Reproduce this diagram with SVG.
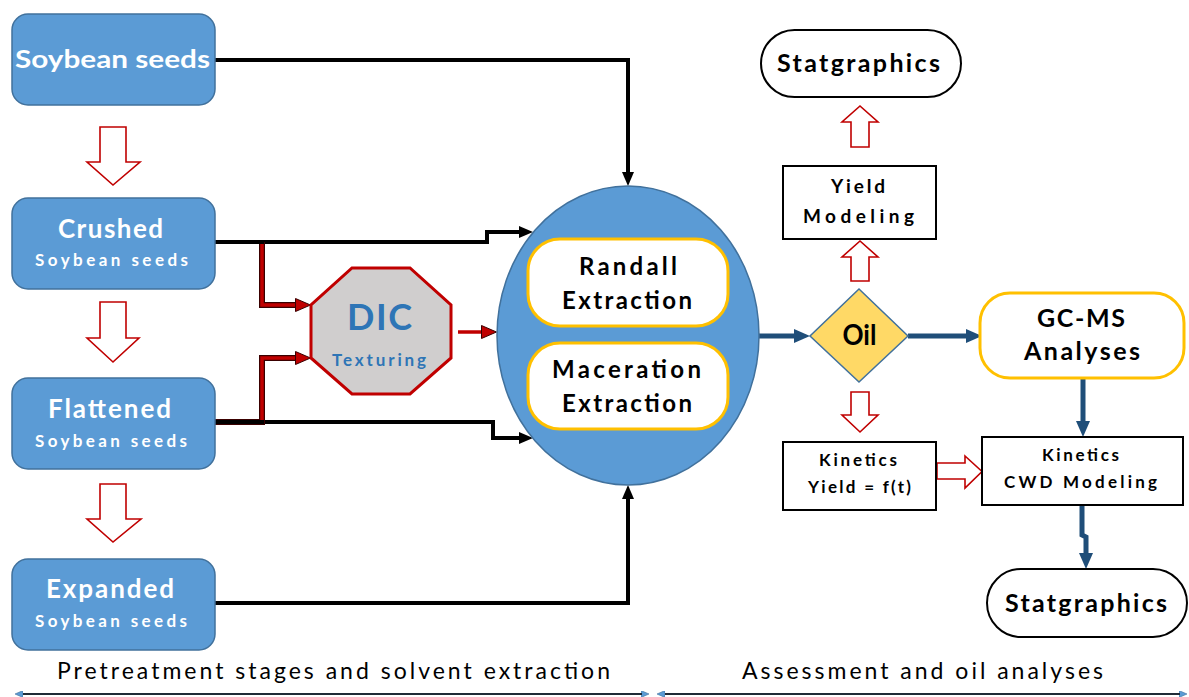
<svg xmlns="http://www.w3.org/2000/svg" width="1189" height="697" viewBox="0 0 1189 697">
<style>
.blue{fill:#5B9BD5;stroke:#41719C;stroke-width:1.5}
.wt{font-family:Lato,"Open Sans","Liberation Sans",sans-serif;font-weight:bold;fill:#fff;text-anchor:middle}
.bt{font-family:Lato,"Open Sans","Liberation Sans",sans-serif;font-weight:bold;fill:#000;text-anchor:middle}
.lab{font-family:Lato,"Open Sans","Liberation Sans",sans-serif;fill:#000;font-size:23px}
.gold{fill:#fff;stroke:#FFC000;stroke-width:3}
.box{fill:#fff;stroke:#000;stroke-width:2}
.hol{fill:#fff;stroke:#C00000;stroke-width:1.6;stroke-linejoin:miter}
.bk{fill:none;stroke:#000;stroke-width:4}
.bl{fill:none;stroke:#1F4E79;stroke-width:5}
.rdo{fill:none;stroke:#3a0000;stroke-width:6}
.rd{fill:none;stroke:#C00000;stroke-width:3.5}
</style>
<defs>
<marker id="ab" viewBox="0 0 14 12" refX="2" refY="6" markerWidth="14" markerHeight="12" markerUnits="userSpaceOnUse" orient="auto"><path d="M0,0 L14,6 L0,12 z" fill="#000"/></marker>
<marker id="ablue" viewBox="0 0 16 14" refX="2" refY="7" markerWidth="16" markerHeight="14" markerUnits="userSpaceOnUse" orient="auto"><path d="M0,0 L16,7 L0,14 z" fill="#1F4E79"/></marker>
<marker id="ared" viewBox="0 0 16 14" refX="2" refY="7" markerWidth="16" markerHeight="14" markerUnits="userSpaceOnUse" orient="auto"><path d="M0.5,0.5 L15.5,7 L0.5,13.5 z" fill="#C00000" stroke="#3a0000" stroke-width="1"/></marker>
<marker id="sm" viewBox="0 0 8 7" refX="1" refY="3.5" markerWidth="8" markerHeight="7" markerUnits="userSpaceOnUse" orient="auto"><path d="M0,0 L8,3.5 L0,7 z" fill="#5B9BD5" stroke="#41719C" stroke-width="0.6"/></marker>
</defs>

<g id="connectors">
  <path class="bk" d="M215,60 H628 V174" marker-end="url(#ab)"/>
  <path class="bk" d="M215,242 H487 V232 H521" marker-end="url(#ab)"/>
  <path class="bk" d="M215,422 H493 V438 H521" marker-end="url(#ab)"/>
  <path class="bk" d="M215,603 H628 V497" marker-end="url(#ab)"/>
  <path class="rdo" d="M262,242 V305 H297"/>
  <path class="rd" d="M215,242 H262 V305 H297" marker-end="url(#ared)"/>
  <path class="rdo" d="M215,422 H262 V358 H297"/>
  <path class="rd" d="M262,422 V358 H297" marker-end="url(#ared)"/>
  <path class="bk" d="M215,242 H264"/>
  <path class="bk" d="M215,422 H264"/>
  <path class="rd" d="M458,332 H483" marker-end="url(#ared)"/>
  <path class="bl" d="M759,336 H796" marker-end="url(#ablue)"/>
  <path class="bl" d="M908,336 H968" marker-end="url(#ablue)"/>
  <path class="bl" d="M1083,378 V423" marker-end="url(#ablue)"/>
  <path class="bl" d="M1082,505 V535 L1086,537 V555" marker-end="url(#ablue)"/>
  <path class="hol" d="M100,127 H126 V162 H140 L113,185 L87,162 H100 Z"/>
  <path class="hol" d="M100,302 H126 V338 H139 L113,362 L87,338 H100 Z"/>
  <path class="hol" d="M100,484 H126 V519 H141 L113,542 L87,519 H100 Z"/>
  <path class="hol" d="M851,281 V257 H842 L860,241 L878,257 H869 V281 Z"/>
  <path class="hol" d="M851,147 V122 H842 L860,106 L878,122 H869 V147 Z"/>
  <path class="hol" d="M851,392 H869 V415 H878 L860,432 L842,415 H851 Z"/>
  <path class="hol" d="M937,463 H965 V456 L982,471.5 L965,488 V479 H937 Z"/>
  <path d="M22,694 H642" stroke="#1F2A36" stroke-width="2" fill="none" marker-end="url(#sm)"/>
  <path d="M642,694 H22" stroke="#1F2A36" stroke-width="2" fill="none" marker-end="url(#sm)"/>
  <path d="M664,694 H1180" stroke="#1F2A36" stroke-width="2" fill="none" marker-end="url(#sm)"/>
  <path d="M1180,694 H664" stroke="#1F2A36" stroke-width="2" fill="none" marker-end="url(#sm)"/>
</g>

<g id="n-soybean"><rect class="blue" x="12" y="14" width="203" height="91" rx="16"/>
  <text class="wt" x="112.5" y="68" font-size="25" textLength="195" lengthAdjust="spacingAndGlyphs">Soybean seeds</text></g>
<g id="n-crushed"><rect class="blue" x="12" y="198" width="203" height="91" rx="16"/>
  <text class="wt" x="110.5" y="238" font-size="26" textLength="105" lengthAdjust="spacing">Crushed</text>
  <text class="wt" x="111.5" y="266" font-size="17" textLength="153" lengthAdjust="spacing">Soybean seeds</text></g>
<g id="n-flattened"><rect class="blue" x="12" y="378" width="203" height="91" rx="16"/>
  <text class="wt" x="109.5" y="418" font-size="26" textLength="123" lengthAdjust="spacing">Flattened</text>
  <text class="wt" x="111" y="447" font-size="17" textLength="152" lengthAdjust="spacing">Soybean seeds</text></g>
<g id="n-expanded"><rect class="blue" x="12" y="559" width="203" height="91" rx="16"/>
  <text class="wt" x="110" y="598" font-size="26" textLength="128" lengthAdjust="spacing">Expanded</text>
  <text class="wt" x="111" y="627" font-size="17" textLength="152" lengthAdjust="spacing">Soybean seeds</text></g>

<g id="n-dic"><polygon points="352,268 410,268 451,305 451,358 410,394 352,394 311,358 311,305" fill="#D0CECE" stroke="#C00000" stroke-width="3"/>
  <text class="bt" x="379.5" y="330" font-size="36" style="fill:#2E75B6" textLength="65" lengthAdjust="spacing">DIC</text>
  <text class="bt" x="379" y="366" font-size="17" style="fill:#2E75B6" textLength="94" lengthAdjust="spacing">Texturing</text></g>

<g id="n-extraction"><ellipse class="blue" cx="628" cy="335.5" rx="131" ry="149.5"/></g>
<g id="n-randall"><rect class="gold" x="528" y="239" width="200" height="87" rx="32"/>
  <text class="bt" x="628" y="275" font-size="24" textLength="98" lengthAdjust="spacing">Randall</text>
  <text class="bt" x="627" y="309" font-size="24" textLength="130" lengthAdjust="spacing">Extraction</text></g>
<g id="n-maceration"><rect class="gold" x="528" y="343" width="200" height="86" rx="32"/>
  <text class="bt" x="626.5" y="378" font-size="24" textLength="149" lengthAdjust="spacing">Maceration</text>
  <text class="bt" x="627" y="412" font-size="24" textLength="130" lengthAdjust="spacing">Extraction</text></g>

<g id="n-oil"><polygon points="859,289 908,336 859,382 810,336" fill="#FFD966" stroke="#41719C" stroke-width="1.5"/>
  <text class="bt" x="859.5" y="345" font-size="28" textLength="34" lengthAdjust="spacingAndGlyphs">Oil</text></g>

<g id="n-stat-top"><rect class="box" x="761" y="30" width="200" height="67" rx="33.5"/>
  <text class="bt" x="858.5" y="72" font-size="25" textLength="163" lengthAdjust="spacing">Statgraphics</text></g>
<g id="n-yield-modeling"><rect class="box" x="783" y="166" width="153" height="73"/>
  <text class="bt" x="858" y="193" font-size="19" textLength="54" lengthAdjust="spacing">Yield</text>
  <text class="bt" x="858.5" y="223" font-size="19" textLength="111" lengthAdjust="spacing">Modeling</text></g>
<g id="n-gcms"><rect class="gold" x="980" y="293" width="204" height="85" rx="30"/>
  <text class="bt" x="1081" y="327" font-size="25" textLength="88" lengthAdjust="spacing">GC-MS</text>
  <text class="bt" x="1082" y="360" font-size="25" textLength="116" lengthAdjust="spacing">Analyses</text></g>
<g id="n-kinetics-yield"><rect class="box" x="783" y="442" width="153" height="68"/>
  <text class="bt" x="858" y="466" font-size="17" textLength="78" lengthAdjust="spacing">Kinetics</text>
  <text class="bt" x="859.5" y="493" font-size="17" textLength="103" lengthAdjust="spacing">Yield = f(t)</text></g>
<g id="n-kinetics-cwd"><rect class="box" x="982" y="437" width="201" height="68"/>
  <text class="bt" x="1080.5" y="461" font-size="17" textLength="77" lengthAdjust="spacing">Kinetics</text>
  <text class="bt" x="1080.5" y="488" font-size="17" textLength="153" lengthAdjust="spacing">CWD Modeling</text></g>
<g id="n-stat-bottom"><rect class="box" x="987" y="569" width="200" height="68" rx="34"/>
  <text class="bt" x="1086" y="612" font-size="25" textLength="162" lengthAdjust="spacing">Statgraphics</text></g>

<g id="labels">
  <text class="lab" x="57" y="679" textLength="553" lengthAdjust="spacing">Pretreatment stages and solvent extraction</text>
  <text class="lab" x="742" y="679" textLength="361" lengthAdjust="spacing">Assessment and oil analyses</text>
</g>
</svg>
